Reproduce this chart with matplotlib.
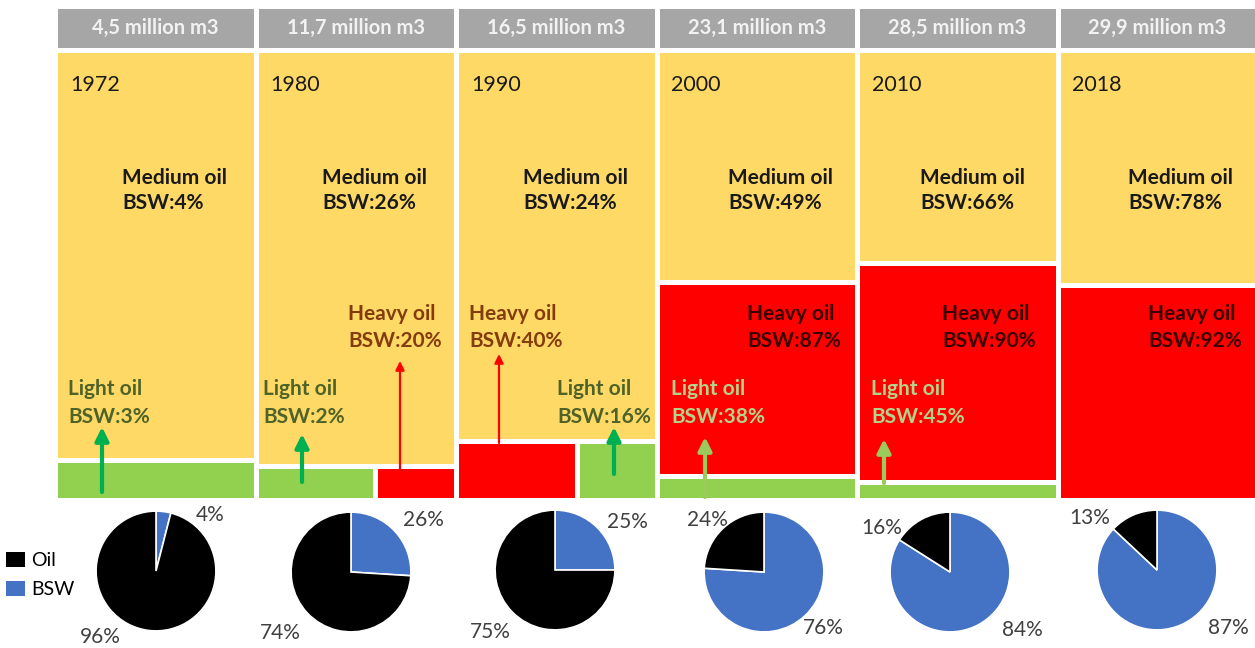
import matplotlib.pyplot as plt
from matplotlib.patches import Patch

plt.rcParams['font.family'] = ['Lato', 'DejaVu Sans']

years = ['1972', '1980', '1990', '2000', '2010', '2018']
volume = ['4,5', '11,7', '16,5', '23,1', '28,5', '29,9']

# share of each column taken by each oil type
light = [0.087, 0.044, 0.051, 0.053, 0.040, 0.0]
heavy = [0.0, 0.030, 0.078, 0.430, 0.486, 0.476]
medium = [0.913, 0.926, 0.871, 0.517, 0.474, 0.524]

bsw_medium = [4, 26, 24, 49, 66, 78]
bsw_heavy = [None, 20, 40, 87, 90, 92]
bsw_light = [3, 2, 16, 38, 45, None]

pie_bsw = [4, 26, 25, 76, 84, 87]
pie_oil = [96, 74, 75, 24, 16, 13]

# years where light and heavy share the bottom strip side by side
strip_order = {1: ('light', 'heavy'), 2: ('heavy', 'light')}

YELLOW = '#FFD966'
RED = '#FF0000'
GREEN = '#92D050'
GRAY = '#A6A6A6'
BLUE = '#4472C4'
fills = {'light': GREEN, 'heavy': RED}

W, H = 1255, 648
fig = plt.figure(figsize=(W / 100, H / 100), dpi=100)

pitch = 200.4
ax = fig.add_axes([55.5 / W, (H - 499.5) / H, 6 * pitch / W, 494 / H])
ax.set_xlim(-0.5, 5.5)
ax.set_ylim(0, 494 / 450)
ax.axis('off')

edge = dict(edgecolor='white', linewidth=3.6)
for i in range(6):
    shares = {'light': light[i], 'heavy': heavy[i]}
    if i in strip_order:
        strip = light[i] + heavy[i]
        left = i - 0.5
        for kind in strip_order[i]:
            frac = shares[kind] / strip
            ax.bar(left, strip, width=frac, bottom=0, align='edge', color=fills[kind], **edge)
            left += frac
        base = strip
    else:
        base = 0
        for kind in ('light', 'heavy'):
            if shares[kind] > 0:
                ax.bar(i, shares[kind], width=1, bottom=base, color=fills[kind], **edge)
                base += shares[kind]
    ax.bar(i, medium[i], width=1, bottom=base, color=YELLOW, **edge)
    ax.bar(i, 494 / 450 - 1, width=1, bottom=1, color=GRAY, **edge)

# overlay in pixel units for labels and arrows
ov = fig.add_axes([0, 0, 1, 1])
ov.set_xlim(0, W)
ov.set_ylim(H, 0)
ov.axis('off')

med_x = [122, 322, 523, 728, 920, 1128]
heavy_x = [None, 348, 469, 747, 942, 1148]
light_x = [68, 263, 557, 671, 871, None]
heavy_col = [None, '#843C0C', '#843C0C', '#3A0000', '#3A0000', '#3A0000']
light_col = ['#4F6228', '#4F6228', '#4F6228', '#B4D38A', '#B4D38A', None]

fs = 15
for i in range(6):
    cl = 58 + pitch * i
    ov.text(cl + 97.5, 27.5, f'{volume[i]} million m3', ha='center', va='center',
            color='#F2F2F2', fontsize=14.5, fontweight='bold')
    ov.text(cl + 12, 85, years[i], va='center', fontsize=15.5, color='#1A1A1A')
    ov.text(med_x[i], 178, 'Medium oil', va='center', fontsize=fs, fontweight='bold', color='#1A1A1A')
    ov.text(med_x[i], 203, f'BSW:{bsw_medium[i]}%', va='center', fontsize=fs, fontweight='bold', color='#1A1A1A')
    if bsw_heavy[i] is not None:
        ov.text(heavy_x[i], 314, 'Heavy oil', va='center', fontsize=fs, fontweight='bold', color=heavy_col[i])
        ov.text(heavy_x[i], 341, f'BSW:{bsw_heavy[i]}%', va='center', fontsize=fs, fontweight='bold', color=heavy_col[i])
    if bsw_light[i] is not None:
        ov.text(light_x[i], 389, 'Light oil', va='center', fontsize=fs, fontweight='bold', color=light_col[i])
        ov.text(light_x[i], 417, f'BSW:{bsw_light[i]}%', va='center', fontsize=fs, fontweight='bold', color=light_col[i])

# arrows: x, base, tip, colour, thick
arrows = [
    (102, 492, 427, '#00B050', True),
    (302, 482, 434, '#00B050', True),
    (400, 469, 361, RED, False),
    (499, 443, 354, RED, False),
    (614, 474, 427, '#00B050', True),
    (705, 497, 437, '#9BCB5A', True),
    (884, 483, 439, '#9BCB5A', True),
]
for x, y0, y1, c, thick in arrows:
    if thick:
        style, lw, ms = '-|>,head_width=0.2,head_length=0.4', 3.0, 20
    else:
        style, lw, ms = '-|>,head_width=0.2,head_length=0.4', 1.6, 13
    ov.annotate('', xy=(x, y1), xytext=(x, y0),
                arrowprops=dict(arrowstyle=style, color=c, lw=lw, mutation_scale=ms,
                                shrinkA=0, shrinkB=0))

# pies
pie_c = [(156, 571), (351, 572), (555, 570), (764, 572), (950, 572), (1157, 570)]
r = 60.5
for i, (cx, cy) in enumerate(pie_c):
    pax = fig.add_axes([(cx - r) / W, (H - cy - r) / H, 2 * r / W, 2 * r / H])
    pax.pie([pie_bsw[i], pie_oil[i]], colors=[BLUE, 'black'], startangle=90,
            counterclock=False, wedgeprops=dict(edgecolor='white', linewidth=1.2))
    pax.set_xlim(-1.01, 1.01)
    pax.set_ylim(-1.01, 1.01)

lab_top = [(210, 515), (423, 520), (627, 522), (707, 520), (882, 528), (1090, 518)]
lab_bot = [(100, 637), (280, 633), (490, 632), (823, 628), (1022, 630), (1228, 628)]
for i in range(6):
    if i < 3:
        top, bot = pie_bsw[i], pie_oil[i]
    else:
        top, bot = pie_oil[i], pie_bsw[i]
    ov.text(*lab_top[i], f'{top}%', ha='center', va='center', fontsize=15, color='#404040')
    ov.text(*lab_bot[i], f'{bot}%', ha='center', va='center', fontsize=15, color='#404040')

fig.legend(handles=[Patch(fc='black'), Patch(fc=BLUE)], labels=['Oil', 'BSW'],
           loc='upper left', bbox_to_anchor=(6 / W, 1 - 552 / H), frameon=False,
           fontsize=14, handlelength=1.0, handleheight=0.8, handletextpad=0.3,
           labelspacing=0.6, borderpad=0, borderaxespad=0)

fig.savefig('out.png', dpi=100)
